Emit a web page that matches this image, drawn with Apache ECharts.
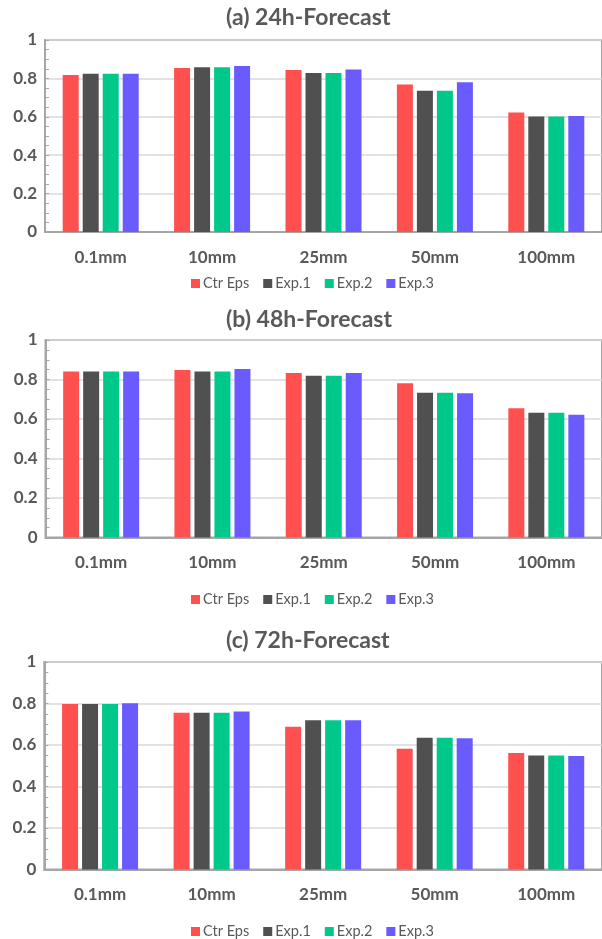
<!DOCTYPE html>
<html>
<head>
<meta charset="utf-8">
<script src="https://cdn.jsdelivr.net/npm/echarts@6/dist/echarts.min.js"></script>
<style>
html,body{margin:0;padding:0;background:#fff;overflow:hidden;}
#c{width:602px;height:939px;}
</style>
</head>
<body>
<div id="c"></div>
<script>
// ---- data ----
const categories = ['0.1mm', '10mm', '25mm', '50mm', '100mm'];
const seriesNames = ['Ctr Eps', 'Exp.1', 'Exp.2', 'Exp.3'];
const panelTitles = ['(a) 24h-Forecast', '(b) 48h-Forecast', '(c) 72h-Forecast'];
const yTicks = [0, 0.2, 0.4, 0.6, 0.8, 1];

const ctr24  = [0.818, 0.854, 0.844, 0.768, 0.623];
const exp1_24 = [0.824, 0.858, 0.828, 0.736, 0.601];
const exp2_24 = [0.824, 0.858, 0.828, 0.736, 0.601];
const exp3_24 = [0.824, 0.865, 0.846, 0.780, 0.604];

const ctr48  = [0.841, 0.848, 0.833, 0.781, 0.654];
const exp1_48 = [0.841, 0.840, 0.819, 0.733, 0.632];
const exp2_48 = [0.841, 0.840, 0.819, 0.733, 0.632];
const exp3_48 = [0.841, 0.853, 0.833, 0.730, 0.622];

const ctr72  = [0.798, 0.756, 0.688, 0.582, 0.561];
const exp1_72 = [0.798, 0.756, 0.719, 0.635, 0.550];
const exp2_72 = [0.798, 0.756, 0.719, 0.635, 0.550];
const exp3_72 = [0.801, 0.762, 0.719, 0.632, 0.547];

const panels = [
  [ctr24, exp1_24, exp2_24, exp3_24],
  [ctr48, exp1_48, exp2_48, exp3_48],
  [ctr72, exp1_72, exp2_72, exp3_72]
];

// ---- layout / style ----
const colors = ['#FF5050', '#505050', '#00C88A', '#6A5BFF'];
const txt = '#595959';
const axisCol = '#A6A6A6';
const font = 'Lato, "Open Sans", sans-serif';
const layout = [
  {top: 40,  height: 192,   left: 45,   width: 560, titleY: 6,   legendY: 276},
  {top: 340, height: 197.5, left: 45.5, width: 560, titleY: 308, legendY: 592},
  {top: 662, height: 207.5, left: 44.3, width: 564, titleY: 629, legendY: 924}
];

const chart = echarts.init(document.getElementById('c'), null, {renderer: 'canvas'});
const option = {
  animation: false,
  color: colors,
  title: [], legend: [], grid: [], xAxis: [], yAxis: [], series: []
};

layout.forEach((L, p) => {
  option.title.push({
    text: panelTitles[p], left: 226, top: L.titleY, padding: 0,
    textStyle: {fontFamily: font, fontSize: 23, fontWeight: 'bold', color: txt}
  });
  option.legend.push({
    data: seriesNames, left: 191, top: L.legendY, itemWidth: 9, itemHeight: 9,
    itemGap: 14, icon: 'rect', padding: 0,
    textStyle: {fontFamily: font, fontSize: 14.5, color: txt, padding: [0, 0, 0, -2]}
  });
  option.grid.push({
    left: L.left, top: L.top, width: L.width, height: L.height,
    show: true, borderColor: axisCol, borderWidth: 2, backgroundColor: 'transparent'
  });
  option.xAxis.push({
    type: 'category', gridIndex: p, data: categories,
    axisLine: {lineStyle: {color: axisCol, width: 2}},
    axisTick: {show: false},
    axisLabel: {margin: 17, fontFamily: font, fontSize: 17, fontWeight: 'bold', color: txt}
  });
  option.yAxis.push({
    type: 'value', gridIndex: p, min: yTicks[0], max: yTicks[yTicks.length - 1], interval: 0.2,
    axisLine: {show: true, lineStyle: {color: axisCol, width: 2}},
    axisTick: {show: true, inside: true, length: 4, lineStyle: {color: axisCol}},
    minorTick: {show: true, splitNumber: 4, length: 4, lineStyle: {color: axisCol}},
    splitLine: {show: true, lineStyle: {color: '#D9D9D9', width: 1.5}},
    axisLabel: {margin: 8, fontFamily: font, fontSize: 17, fontWeight: 'bold', color: txt}
  });
  panels[p].forEach((vals, s) => {
    option.series.push({
      type: 'bar', name: seriesNames[s], xAxisIndex: p, yAxisIndex: p,
      data: vals, barWidth: 16, barGap: '25%',
      itemStyle: {color: colors[s]}
    });
  });
});

chart.setOption(option);
</script>
</body>
</html>
